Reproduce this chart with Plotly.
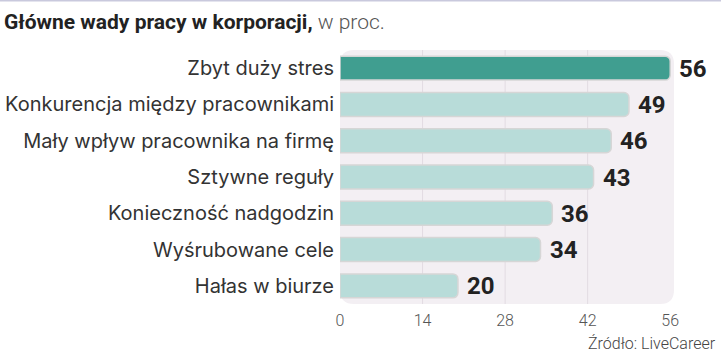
import plotly.graph_objects as go

categories = ["Zbyt duży stres", "Konkurencja między pracownikami", "Mały wpływ pracownika na firmę",
              "Sztywne reguły", "Konieczność nadgodzin", "Wyśrubowane cele", "Hałas w biurze"]
values = [56, 49, 46, 43, 36, 34, 20]
tick_vals = [0, 14, 28, 42, 56]
grid_vals = [14, 28, 42]

colors = ["#409e90"] + ["#b8dcd9"] * (len(values) - 1)

fig = go.Figure()
fig.add_trace(go.Bar(
    x=values, y=categories, orientation="h",
    marker=dict(color=colors, line=dict(color="#d6d6d6", width=1.5), cornerradius=5),
    width=0.66, hoverinfo="skip",
))

for c, v in zip(categories, values):
    fig.add_annotation(x=v, y=c, text=f"<b>{v}</b>", showarrow=False, xanchor="left",
                       xshift=7, yshift=-0.5,
                       font=dict(family="Roboto", size=24, color="#222222"))

shapes = []
rx, ry = 14 / 332, 14 / 254
x1 = 1.0 + 2 / 332
path = (f"M {rx},0 L {x1-rx},0 Q {x1},0 {x1},{ry} L {x1},{1-ry} Q {x1},1 {x1-rx},1 "
        f"L {rx},1 Q 0,1 0,{1-ry} L 0,{ry} Q 0,0 {rx},0 Z")
shapes.append(dict(type="path", xref="paper", yref="paper", path=path,
                   fillcolor="#f3eff3", line=dict(width=0), layer="below"))
for g in grid_vals:
    shapes.append(dict(type="line", xref="x", yref="paper", x0=g, x1=g, y0=0, y1=1,
                       line=dict(color="#e2dbe2", width=1), layer="below"))
shapes.append(dict(type="line", xref="paper", yref="paper", x0=-340 / 332, x1=381 / 332,
                   y0=1 + 49.5 / 254, y1=1 + 49.5 / 254, line=dict(color="#c9c9dd", width=2)))
fig.update_layout(shapes=shapes)

fig.add_annotation(xref="paper", yref="paper", x=-338 / 332, y=1 + 28 / 254, xanchor="left", yanchor="middle",
                   text="<b>Główne wady pracy w korporacji,</b><span style='color:#555555;font-weight:300'> w proc.</span>",
                   showarrow=False, font=dict(family="Roboto", size=21, color="#222222"))
fig.add_annotation(xref="paper", yref="paper", x=378 / 332, y=-39 / 254, xanchor="right", yanchor="middle",
                   text="Źródło: LiveCareer", showarrow=False,
                   font=dict(family="Roboto", size=16, color="#444444", weight=300))

fig.update_layout(
    width=721, height=361,
    margin=dict(l=340, r=49, t=50, b=57),
    paper_bgcolor="white", plot_bgcolor="rgba(0,0,0,0)",
    showlegend=False,
    xaxis=dict(range=[0, 56.3], tickvals=tick_vals, showgrid=False, zeroline=False,
               showline=False, ticks="", ticklabelstandoff=5, automargin=False,
               tickfont=dict(family="Roboto", size=16, color="#555555", weight=300)),
    yaxis=dict(autorange="reversed", showgrid=False, zeroline=False, showline=False, ticks="",
               ticklabelstandoff=5, automargin=False,
               tickfont=dict(family="Inter", size=20, color="#333333")),
)

fig.write_html("out.html", config={"displayModeBar": False},
               post_script="document.body.style.margin='0';document.body.style.overflow='hidden';")
